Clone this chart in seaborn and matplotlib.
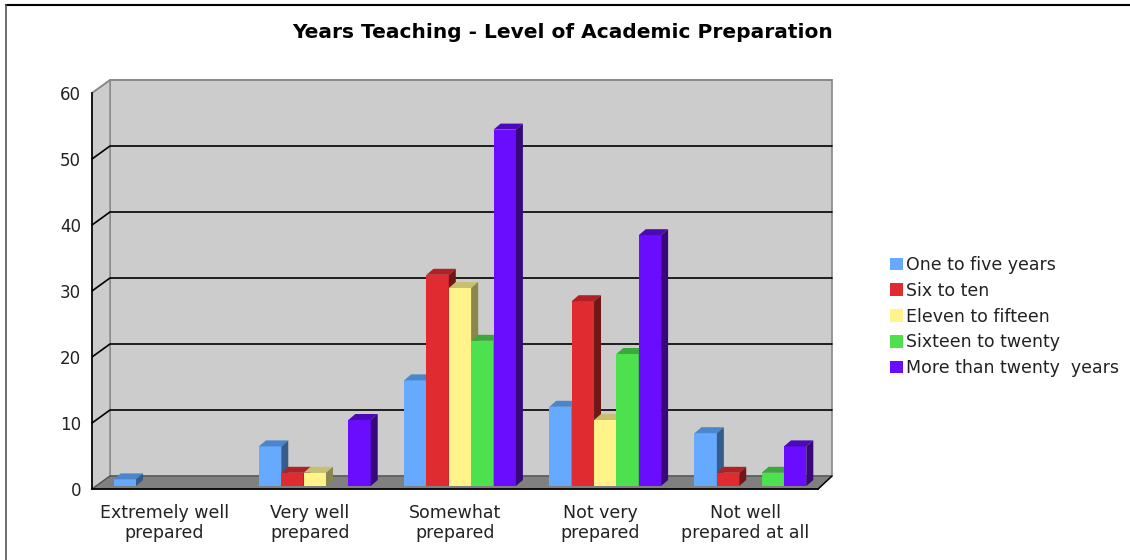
import pandas as pd
import numpy as np
import matplotlib
matplotlib.use("Agg")
import matplotlib.pyplot as plt
import seaborn as sns
from matplotlib.patches import Rectangle, Polygon, Patch
from matplotlib.lines import Line2D

sns.set_style("white")
plt.rcParams['font.family'] = ['DejaVu Sans']

# data
levels = ['Extremely well\nprepared', 'Very well\nprepared', 'Somewhat\nprepared',
          'Not very\nprepared', 'Not well\nprepared at all']
groups = ['One to five years', 'Six to ten', 'Eleven to fifteen',
          'Sixteen to twenty', 'More than twenty  years']
one_to_five = [1, 6, 16, 12, 8]
six_to_ten = [0, 2, 32, 28, 2]
eleven_to_fifteen = [0, 2, 30, 10, 0]
sixteen_to_twenty = [0, 0, 22, 20, 2]
more_than_twenty = [0, 10, 54, 38, 6]
y_ticks = [0, 10, 20, 30, 40, 50, 60]

series = [one_to_five, six_to_ten, eleven_to_fifteen, sixteen_to_twenty, more_than_twenty]
df = pd.DataFrame([(lv, g, v) for g, vals in zip(groups, series) for lv, v in zip(levels, vals)],
                  columns=['level', 'group', 'count'])

front = ['#66aaff', '#e02c30', '#fff38a', '#4de04f', '#6a0dff']
top = ['#4a86cc', '#b02025', '#c8c070', '#3aa83a', '#4a0ab8']
side = ['#365c8c', '#701818', '#8a8650', '#2a7a2a', '#36087a']

W, H = 1130, 560
fig = plt.figure(figsize=(W / 100, H / 100), dpi=100)
x0, x1, y0, y1 = 92, 818, 489, 93
ax = fig.add_axes([x0 / W, 1 - y0 / H, (x1 - x0) / W, (y0 - y1) / H])
ax.set_xlim(-0.5, 4.5)
ax.set_ylim(0, 60)
ax.patch.set_visible(False)

# pixel -> data unit helpers
px_x = 5 / (x1 - x0)
px_y = 60 / (y0 - y1)
ddx, ddy = 18 * px_x, 13 * px_y  # wall depth
right_back = 4.5 + 14 * px_x

# back wall, left wall, floor
ax.add_patch(Polygon([(-0.5 + ddx, ddy), (right_back, ddy), (right_back, 60 + ddy),
                      (-0.5 + ddx, 60 + ddy)], closed=True, fc='#cccccc', ec='#888888',
                     lw=1.2, clip_on=False, zorder=0))
ax.add_patch(Polygon([(-0.5, 0), (-0.5, 60), (-0.5 + ddx, 60 + ddy), (-0.5 + ddx, ddy)],
                     closed=True, fc='#cccccc', ec='#888888', lw=1, clip_on=False, zorder=0))
ax.add_patch(Polygon([(-0.5, 0), (4.5, 0), (right_back, ddy), (-0.5 + ddx, ddy)],
                     closed=True, fc='#808080', ec='#555555', lw=1, clip_on=False, zorder=0.5))
ax.plot([4.5, right_back], [0, ddy], color='black', lw=1, clip_on=False, zorder=0.6)

# gridlines on walls
for t in y_ticks[1:]:
    c = '#888888' if t == 60 else 'black'
    ax.plot([-0.5, -0.5 + ddx, right_back], [t, t + ddy, t + ddy], color=c, lw=1.2,
            clip_on=False, zorder=0.2)

sns.barplot(data=df, x='level', y='count', hue='group', hue_order=groups, order=levels,
            palette=front, saturation=1, width=0.77, ax=ax, legend=False, linewidth=0)

bx, by = 5 * px_x, 3 * px_y      # bars sit a bit behind the front plane
dx, dy = 7 * px_x, 6 * px_y      # bar depth
for gi, cont in enumerate(ax.containers):
    for p in cont.patches:
        h = p.get_height()
        if h <= 0:
            p.set_visible(False)
            continue
        p.set_x(p.get_x() + bx)
        p.set_y(p.get_y() + by)
        xl, w, yb = p.get_x(), p.get_width(), p.get_y()
        z = 3 + gi * 0.1
        p.set_zorder(z)
        ax.add_patch(Polygon([(xl, yb + h), (xl + w, yb + h), (xl + w + dx, yb + h + dy),
                              (xl + dx, yb + h + dy)], closed=True, fc=top[gi], lw=0,
                             clip_on=False, zorder=z))
        ax.add_patch(Polygon([(xl + w, yb), (xl + w, yb + h), (xl + w + dx, yb + h + dy),
                              (xl + w + dx, yb + dy)], closed=True, fc=side[gi], lw=0,
                             clip_on=False, zorder=z))

# axes styling
for s in ['top', 'right']:
    ax.spines[s].set_visible(False)
for s in ['left', 'bottom']:
    ax.spines[s].set_color('black')
    ax.spines[s].set_linewidth(1.2)
    ax.spines[s].set_zorder(6)
ax.set_yticks(y_ticks)
ax.set_xticks(range(len(levels)))
ax.set_xticklabels(levels, fontsize=12.5, color='#222222', linespacing=1.15)
ax.set_xticks(np.arange(-0.5, 5, 1), minor=True)
ax.tick_params(axis='x', which='major', length=0, pad=11)
ax.tick_params(axis='x', which='minor', length=7, width=1.2, color='black', direction='out')
ax.tick_params(axis='y', length=5, width=1.2, color='black', direction='out',
               labelsize=12, labelcolor='#222222', pad=3)
ax.set_xlabel('')
ax.set_ylabel('')

fig.text(563 / W, 1 - 33 / H, 'Years Teaching - Level of Academic Preparation',
         ha='center', va='center', fontsize=14.5, fontweight='bold', color='black')

handles = [Patch(facecolor=c, edgecolor='none') for c in front]
fig.legend(handles, groups, loc='upper left', bbox_to_anchor=(883 / W, 1 - 249 / H),
           frameon=False, fontsize=12.5, handlelength=0.75, handleheight=0.75,
           handletextpad=0.2, labelspacing=0.45, borderaxespad=0, labelcolor='#222222')

# outer frame
fig.add_artist(Line2D([6 / W, 1], [1 - 5 / H, 1 - 5 / H], color='black', lw=1.5))
fig.add_artist(Line2D([6 / W, 6 / W], [0, 1 - 5 / H], color='#555555', lw=1.2))

fig.savefig('out.png', dpi=100)
